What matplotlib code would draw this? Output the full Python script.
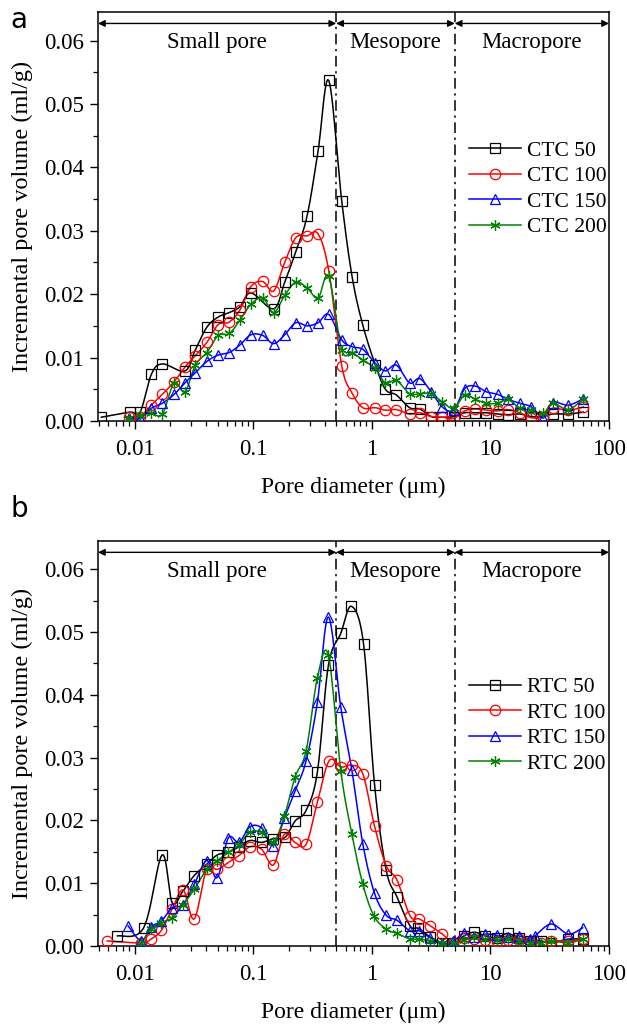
import numpy as np
import matplotlib
matplotlib.use("Agg")
import matplotlib.pyplot as plt
from matplotlib.ticker import FixedLocator, FuncFormatter, MultipleLocator, LogLocator, NullFormatter

plt.rcParams['font.family'] = ['Liberation Serif', 'DejaVu Serif']
plt.rcParams['mathtext.fontset'] = 'stix'

# ---------------- Data: panel a ----------------
ctc50_x = [0.00523, 0.00907, 0.0111, 0.01384, 0.01714, 0.0265, 0.0324, 0.0406, 0.0506, 0.0627,
           0.0771, 0.0955, 0.1485, 0.184, 0.228, 0.284, 0.352, 0.433, 0.557, 0.682, 0.839,
           1.067, 1.30, 1.61, 2.08, 2.53, 3.17, 3.93, 4.90, 6.07, 7.47, 9.25, 11.5, 14.1,
           17.7, 22.2, 27.9, 33.4, 45.3, 60.7]
ctc50_y = [0.0006, 0.0014, 0.0014, 0.0074, 0.0090, 0.0079, 0.0112, 0.0148, 0.0164, 0.0171,
           0.0180, 0.0202, 0.0177, 0.0219, 0.0267, 0.0323, 0.0426, 0.0537, 0.0347, 0.0227, 0.0151,
           0.0089, 0.0050, 0.0041, 0.0021, 0.0019, 0.0007, 0.0006, 0.0007, 0.0013, 0.0013, 0.0013,
           0.0011, 0.0010, 0.0011, 0.0007, 0.0007, 0.0011, 0.0011, 0.0014]

ctc_x = [0.00896, 0.0111, 0.0138, 0.0171, 0.0215, 0.0265, 0.0324, 0.0406, 0.0506, 0.0627,
         0.0771, 0.0955, 0.120, 0.1485, 0.184, 0.228, 0.284, 0.352, 0.433, 0.557, 0.682, 0.839,
         1.067, 1.30, 1.61, 2.08, 2.53, 3.17, 3.93, 4.90, 6.07, 7.47, 9.25, 11.5, 14.1, 17.7,
         22.2, 27.9, 33.4, 45.3, 60.7]
ctc100_y = [0.0006, 0.0007, 0.0025, 0.0042, 0.0062, 0.0085, 0.0103, 0.0124, 0.0152, 0.0156,
            0.0175, 0.0212, 0.0220, 0.0205, 0.0250, 0.0289, 0.0292, 0.0295, 0.0237, 0.0087, 0.0044,
            0.0021, 0.0021, 0.0017, 0.0018, 0.0011, 0.0013, 0.0007, 0.0006, 0.0004, 0.0016, 0.0019,
            0.0017, 0.0016, 0.0018, 0.0013, 0.0005, 0.0007, 0.0020, 0.0017, 0.0022]
ctc150_y = [0.0004, 0.0004, 0.0020, 0.0028, 0.0042, 0.0060, 0.0076, 0.0094, 0.0104, 0.0108,
            0.0120, 0.0136, 0.0135, 0.0122, 0.0136, 0.0155, 0.0150, 0.0155, 0.0168, 0.0128, 0.0117,
            0.0113, 0.0091, 0.0079, 0.0088, 0.0060, 0.0067, 0.0046, 0.0022, 0.0017, 0.0051, 0.0055,
            0.0046, 0.0042, 0.0034, 0.0028, 0.0022, 0.0005, 0.0029, 0.0025, 0.0035]
ctc200_y = [0.0004, 0.0009, 0.0012, 0.0011, 0.0060, 0.0046, 0.0088, 0.0108, 0.0135, 0.0138,
            0.0159, 0.0184, 0.0194, 0.0171, 0.0198, 0.0219, 0.0210, 0.0194, 0.0228, 0.0112, 0.0108,
            0.0096, 0.0083, 0.0060, 0.0064, 0.0043, 0.0043, 0.0043, 0.0030, 0.0020, 0.0041, 0.0034,
            0.0028, 0.0028, 0.0034, 0.0020, 0.0017, 0.0012, 0.0028, 0.0018, 0.0035]

# ---------------- Data: panel b ----------------
rtc50_x = [0.00714, 0.0119, 0.0170, 0.0207, 0.0256, 0.0317, 0.0404, 0.0497, 0.0615, 0.0757,
           0.0937, 0.1175, 0.1475, 0.185, 0.225, 0.279, 0.347, 0.430, 0.547, 0.672, 0.851,
           1.053, 1.32, 1.63, 2.10, 2.47, 3.12, 3.92, 4.88, 5.96, 7.33, 9.08, 11.3, 14.0,
           17.3, 21.6, 26.8, 32.5, 45.4, 60.0]
rtc50_y = [0.0016, 0.0029, 0.0145, 0.0069, 0.0088, 0.0112, 0.0130, 0.0145, 0.0149, 0.0158,
           0.0168, 0.0165, 0.0171, 0.0173, 0.0199, 0.0216, 0.0277, 0.0447, 0.0498, 0.0541, 0.0481,
           0.0257, 0.0121, 0.0078, 0.0032, 0.0028, 0.0014, 0.0005, 0.0004, 0.0016, 0.0022, 0.0016,
           0.0013, 0.0020, 0.0012, 0.0008, 0.0008, 0.0005, 0.0011, 0.0011]

rtc100_x = [0.00587, 0.0114, 0.0137, 0.0168, 0.0207, 0.0256, 0.0317, 0.0404, 0.0497, 0.0615,
            0.0757, 0.0937, 0.1175, 0.1475, 0.183, 0.225, 0.279, 0.347, 0.436, 0.551, 0.676,
            0.840, 1.053, 1.32, 1.63, 2.10, 2.52, 3.12, 3.92, 4.88, 5.96, 7.33, 9.08, 11.3,
            14.0, 17.3, 21.6, 26.8, 32.5, 45.4, 60.0]
rtc100_y = [0.0008, 0.0005, 0.0011, 0.0025, 0.0059, 0.0089, 0.0043, 0.0122, 0.0122, 0.0133,
            0.0144, 0.0158, 0.0154, 0.0129, 0.0178, 0.0165, 0.0162, 0.0229, 0.0295, 0.0285, 0.0288,
            0.0274, 0.0191, 0.0128, 0.0105, 0.0048, 0.0043, 0.0032, 0.0019, 0.0005, 0.0013, 0.0011,
            0.0010, 0.0008, 0.0009, 0.0011, 0.0006, 0.0005, 0.0008, 0.0008, 0.0011]

rtc150_x = [0.00879, 0.0114, 0.0137, 0.0168, 0.0207, 0.0256, 0.0317, 0.0404, 0.0497, 0.0615,
            0.0757, 0.0937, 0.1175, 0.1475, 0.183, 0.225, 0.279, 0.347, 0.430, 0.547, 0.678,
            0.840, 1.053, 1.32, 1.63, 2.10, 2.52, 3.12, 3.92, 4.88, 5.96, 7.33, 9.08, 11.3,
            14.0, 17.3, 21.6, 23.8, 32.5, 45.4, 60.0]
rtc150_y = [0.0032, 0.0008, 0.0030, 0.0040, 0.0061, 0.0066, 0.0098, 0.0136, 0.0109, 0.0172,
            0.0165, 0.0190, 0.0188, 0.0160, 0.0204, 0.0247, 0.0295, 0.0388, 0.0524, 0.0380, 0.0280,
            0.0162, 0.0084, 0.0049, 0.0041, 0.0024, 0.0024, 0.0013, 0.0004, 0.0008, 0.0020, 0.0014,
            0.0019, 0.0017, 0.0014, 0.0016, 0.0011, 0.0016, 0.0035, 0.0019, 0.0029]

rtc200_x = [0.0114, 0.0137, 0.0168, 0.0207, 0.0256, 0.0317, 0.0404, 0.0497, 0.0615, 0.0757,
            0.0937, 0.1175, 0.1475, 0.183, 0.225, 0.279, 0.347, 0.430, 0.547, 0.678, 0.840,
            1.04, 1.32, 1.63, 2.10, 2.52, 3.12, 3.92, 4.88, 5.96, 7.33, 9.08, 11.3, 14.0,
            17.3, 21.6, 26.8, 32.5, 45.4, 60.0]
rtc200_y = [0.0005, 0.0027, 0.0037, 0.0045, 0.0066, 0.0090, 0.0122, 0.0136, 0.0149, 0.0161,
            0.0181, 0.0181, 0.0165, 0.0207, 0.0269, 0.0311, 0.0427, 0.0463, 0.0279, 0.0178, 0.0098,
            0.0048, 0.0027, 0.0020, 0.0011, 0.0011, 0.0008, 0.0004, 0.0004, 0.0009, 0.0014, 0.0011,
            0.0009, 0.0011, 0.0008, 0.0005, 0.0005, 0.0008, 0.0005, 0.0011]

labels_a = ["CTC 50", "CTC 100", "CTC 150", "CTC 200"]
labels_b = ["RTC 50", "RTC 100", "RTC 150", "RTC 200"]
region_names = ["Small pore", "Mesopore", "Macropore"]
boundaries = [0.5, 5]
xtick_vals = [0.01, 0.1, 1, 10, 100]
xtick_labels = ["0.01", "0.1", "1", "10", "100"]

colors = ["black", "#FF0000", "#0000FF", "#008000"]
markers = ["s", "o", "^", (6, 2, 0)]


def catmull(x, y, n=12):
    lx = np.log10(np.asarray(x, float))
    yy = np.asarray(y, float)
    P = np.column_stack([lx, yy])
    out = []
    m = len(P)
    for i in range(m - 1):
        p0 = P[i - 1] if i > 0 else P[i]
        p1 = P[i]
        p2 = P[i + 1]
        p3 = P[i + 2] if i + 2 < m else P[i + 1]
        t = np.linspace(0, 1, n, endpoint=False)[:, None]
        seg = 0.5 * ((2 * p1) + (-p0 + p2) * t + (2 * p0 - 5 * p1 + 4 * p2 - p3) * t ** 2
                     + (-p0 + 3 * p1 - 3 * p2 + p3) * t ** 3)
        out.append(seg)
    out.append(P[-1:])
    S = np.vstack(out)
    return 10 ** S[:, 0], S[:, 1]


fig = plt.figure(figsize=(6.27, 10.24), dpi=100)
ax1 = fig.add_axes([98 / 627, 1 - 421 / 1024, 511 / 627, 409 / 1024])
ax2 = fig.add_axes([98 / 627, 1 - 946 / 1024, 511 / 627, 405 / 1024])

series_a = [(ctc50_x, ctc50_y), (ctc_x, ctc100_y), (ctc_x, ctc150_y), (ctc_x, ctc200_y)]
series_b = [(rtc50_x, rtc50_y), (rtc100_x, rtc100_y), (rtc150_x, rtc150_y), (rtc200_x, rtc200_y)]

panels = [(ax1, series_a, labels_a, "a", 0.711, 0.98),
          (ax2, series_b, labels_b, "b", 0.690, 1.079)]

for ax, series, labels, panel, leg_y, panel_y in panels:
    handles = []
    for (x, y), c, mk, lab in zip(series, colors, markers, labels):
        sx, sy = catmull(x, y)
        ax.plot(sx, sy, color=c, lw=1.1, zorder=3)
        ax.plot(x, y, ls="none", marker=mk, ms=7.5, mfc="none", mec=c, mew=0.9, zorder=4)
        h, = ax.plot([], [], color=c, lw=1.1, marker=mk, ms=7.5, mfc="none", mec=c, mew=0.9)
        handles.append(h)
    ax.set_xscale("log")
    ax.set_xlim(0.0049, 100)
    ax.set_ylim(0, 0.0645)
    ax.xaxis.set_major_locator(FixedLocator(xtick_vals))
    ax.xaxis.set_major_formatter(FuncFormatter(lambda v, p: xtick_labels[xtick_vals.index(v)] if v in xtick_vals else ""))
    ax.xaxis.set_minor_locator(LogLocator(base=10, subs=np.arange(2, 10), numticks=20))
    ax.xaxis.set_minor_formatter(NullFormatter())
    ax.yaxis.set_major_locator(MultipleLocator(0.01))
    ax.yaxis.set_minor_locator(MultipleLocator(0.005))
    ax.yaxis.set_major_formatter(FuncFormatter(lambda v, p: f"{v:.2f}"))
    ax.tick_params(which="major", direction="out", length=6, width=1, labelsize=16.5, pad=4)
    ax.tick_params(axis="x", which="major", pad=7)
    ax.tick_params(which="minor", direction="out", length=3.5, width=0.9)
    for s in ax.spines.values():
        s.set_linewidth(1.1)
    ax.set_xlabel("Pore diameter (μm)", fontsize=17, labelpad=12)
    ax.set_ylabel("Incremental pore volume (ml/g)", fontsize=17.5, labelpad=8)
    for b in boundaries:
        ax.axvline(b, color="black", lw=1.1, ls=(0, (7, 3, 1.5, 3)), zorder=2)
    edges = [ax.get_xlim()[0], boundaries[0], boundaries[1], ax.get_xlim()[1]]
    for i, name in enumerate(region_names):
        ax.annotate("", xy=(edges[i + 1], 0.972), xytext=(edges[i], 0.972),
                    xycoords=("data", "axes fraction"), textcoords=("data", "axes fraction"),
                    arrowprops=dict(arrowstyle="<|-|>", color="black", lw=1.0,
                                    mutation_scale=10, shrinkA=0, shrinkB=0))
        xm = 10 ** ((np.log10(edges[i]) + np.log10(edges[i + 1])) / 2)
        ax.text(xm, 0.925, name, transform=ax.get_xaxis_transform(), ha="center", va="center", fontsize=16.5)
    ax.legend(handles, labels, loc="upper left", bbox_to_anchor=(0.705, leg_y), frameon=False,
              fontsize=15.5, handlelength=2.4, handletextpad=0.3, labelspacing=0.25, borderpad=0)
    ax.text(-0.172, panel_y, panel, transform=ax.transAxes, fontsize=20, family="DejaVu Sans",
            ha="left", va="center")

fig.savefig("out.png", dpi=100)
